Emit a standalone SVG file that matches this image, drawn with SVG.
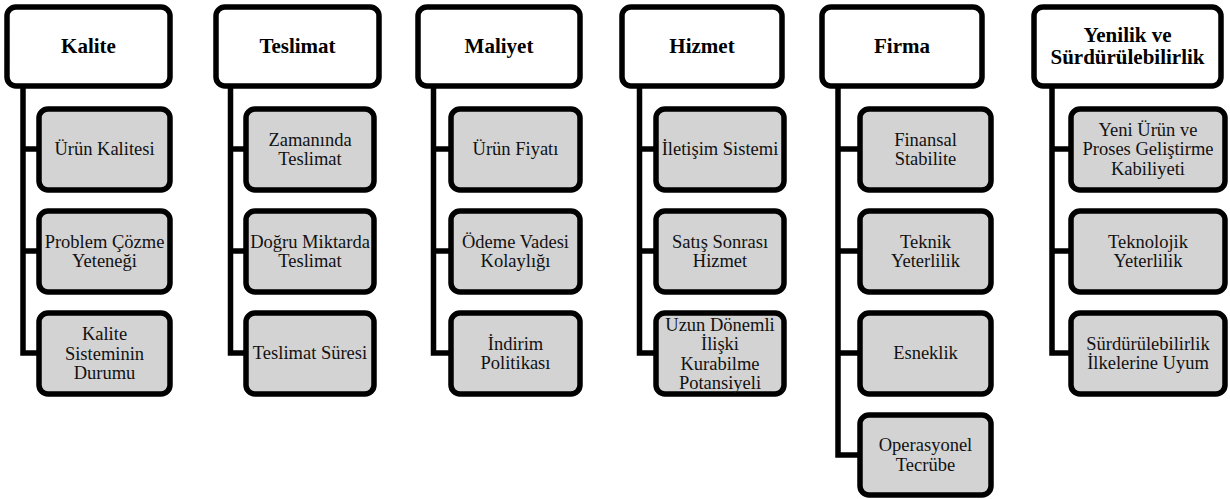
<svg xmlns="http://www.w3.org/2000/svg" width="1230" height="499" viewBox="0 0 1230 499">
<style>
.h{fill:#fff;stroke:#000;stroke-width:5.5}
.c{fill:#d3d3d3;stroke:#000;stroke-width:5.5}
.ln{fill:none;stroke:#000;stroke-width:5.5;stroke-linejoin:miter}
text{font-family:'Liberation Serif','Times New Roman',Times,serif;text-anchor:middle}
.ht{font-weight:bold;font-size:21px;fill:#000}
.ct{font-size:18.5px;fill:#111}
</style>
<rect width="1230" height="499" fill="#fff"/>
<g id="connectors">
<path class="ln" d="M23,88 V353 H39 M23,149 H39 M23,251 H39"/>
<path class="ln" d="M230.5,88 V353 H246 M230.5,149 H246 M230.5,251 H246"/>
<path class="ln" d="M433.5,88 V353 H451 M433.5,149 H451 M433.5,251 H451"/>
<path class="ln" d="M639.5,88 V353 H656 M639.5,149 H656 M639.5,251 H656"/>
<path class="ln" d="M838,88 V455 H860 M838,149 H860 M838,251 H860 M838,353 H860"/>
<path class="ln" d="M1052,88 V353 H1071 M1052,149 H1071 M1052,251 H1071"/>
</g>
<g font-family="Liberation Serif">
<g id="kalite">
<rect class="h" x="7" y="7" width="163" height="79" rx="9"/>
<text class="ht" x="88.5" y="53">Kalite</text>
</g>
<g id="kalite-1"><rect class="c" x="39" y="109" width="131" height="81" rx="9"/><text class="ct" x="104.5" y="155">Ürün Kalitesi</text></g>
<g id="kalite-2"><rect class="c" x="39" y="211" width="131" height="81" rx="9"/><text class="ct" x="104.5" y="247.5">Problem Çözme</text><text class="ct" x="104.5" y="267">Yeteneği</text></g>
<g id="kalite-3"><rect class="c" x="39" y="313" width="131" height="81" rx="9"/><text class="ct" x="104.5" y="340">Kalite</text><text class="ct" x="104.5" y="359.5">Sisteminin</text><text class="ct" x="104.5" y="379">Durumu</text></g>

<g id="teslimat">
<rect class="h" x="216" y="7" width="163" height="79" rx="9"/>
<text class="ht" x="297.5" y="53">Teslimat</text>
</g>
<g id="teslimat-1"><rect class="c" x="246" y="109" width="128" height="81" rx="9"/><text class="ct" x="310" y="145.5">Zamanında</text><text class="ct" x="310" y="165">Teslimat</text></g>
<g id="teslimat-2"><rect class="c" x="246" y="211" width="128" height="81" rx="9"/><text class="ct" x="310" y="247.5">Doğru Miktarda</text><text class="ct" x="310" y="267">Teslimat</text></g>
<g id="teslimat-3"><rect class="c" x="246" y="313" width="128" height="81" rx="9"/><text class="ct" x="310" y="359">Teslimat Süresi</text></g>

<g id="maliyet">
<rect class="h" x="418" y="7" width="162" height="79" rx="9"/>
<text class="ht" x="499" y="53">Maliyet</text>
</g>
<g id="maliyet-1"><rect class="c" x="451" y="109" width="129" height="81" rx="9"/><text class="ct" x="515.5" y="155">Ürün Fiyatı</text></g>
<g id="maliyet-2"><rect class="c" x="451" y="211" width="129" height="81" rx="9"/><text class="ct" x="515.5" y="247.5">Ödeme Vadesi</text><text class="ct" x="515.5" y="267">Kolaylığı</text></g>
<g id="maliyet-3"><rect class="c" x="451" y="313" width="129" height="81" rx="9"/><text class="ct" x="515.5" y="349.5">İndirim</text><text class="ct" x="515.5" y="369">Politikası</text></g>

<g id="hizmet">
<rect class="h" x="622" y="7" width="160" height="79" rx="9"/>
<text class="ht" x="702" y="53">Hizmet</text>
</g>
<g id="hizmet-1"><rect class="c" x="656" y="109" width="128" height="81" rx="9"/><text class="ct" x="720" y="155">İletişim Sistemi</text></g>
<g id="hizmet-2"><rect class="c" x="656" y="211" width="128" height="81" rx="9"/><text class="ct" x="720" y="247.5">Satış Sonrası</text><text class="ct" x="720" y="267">Hizmet</text></g>
<g id="hizmet-3"><rect class="c" x="656" y="313" width="128" height="81" rx="9"/><text class="ct" x="720" y="330.5">Uzun Dönemli</text><text class="ct" x="720" y="350">İlişki</text><text class="ct" x="720" y="369.5">Kurabilme</text><text class="ct" x="720" y="389">Potansiyeli</text></g>

<g id="firma">
<rect class="h" x="822" y="7" width="160" height="79" rx="9"/>
<text class="ht" x="902" y="53">Firma</text>
</g>
<g id="firma-1"><rect class="c" x="860" y="109" width="131" height="81" rx="9"/><text class="ct" x="925.5" y="145.5">Finansal</text><text class="ct" x="925.5" y="165">Stabilite</text></g>
<g id="firma-2"><rect class="c" x="860" y="211" width="131" height="81" rx="9"/><text class="ct" x="925.5" y="247.5">Teknik</text><text class="ct" x="925.5" y="267">Yeterlilik</text></g>
<g id="firma-3"><rect class="c" x="860" y="313" width="131" height="81" rx="9"/><text class="ct" x="925.5" y="359">Esneklik</text></g>
<g id="firma-4"><rect class="c" x="860" y="415" width="131" height="80" rx="9"/><text class="ct" x="925.5" y="451">Operasyonel</text><text class="ct" x="925.5" y="470.5">Tecrübe</text></g>

<g id="yenilik">
<rect class="h" x="1034" y="7" width="187" height="79" rx="9"/>
<text class="ht" x="1127.5" y="42">Yenilik ve</text>
<text class="ht" x="1127.5" y="64">Sürdürülebilirlik</text>
</g>
<g id="yenilik-1"><rect class="c" x="1071" y="109" width="154" height="81" rx="9"/><text class="ct" x="1148" y="135.5">Yeni Ürün ve</text><text class="ct" x="1148" y="155">Proses Geliştirme</text><text class="ct" x="1148" y="174.5">Kabiliyeti</text></g>
<g id="yenilik-2"><rect class="c" x="1071" y="211" width="154" height="81" rx="9"/><text class="ct" x="1148" y="247.5">Teknolojik</text><text class="ct" x="1148" y="267">Yeterlilik</text></g>
<g id="yenilik-3"><rect class="c" x="1071" y="313" width="154" height="81" rx="9"/><text class="ct" x="1148" y="349.5">Sürdürülebilirlik</text><text class="ct" x="1148" y="369">İlkelerine Uyum</text></g>
</g>
</svg>
